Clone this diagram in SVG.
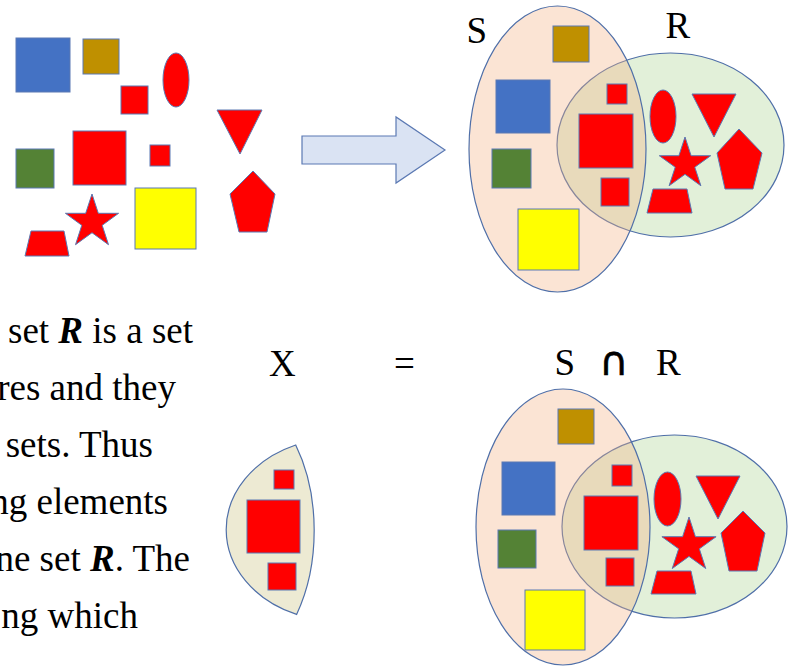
<svg xmlns="http://www.w3.org/2000/svg" width="788" height="667" viewBox="0 0 788 667">
<style>
.sh{stroke:#5B79B3;stroke-width:1}
.red{fill:#FF0000}
.blue{fill:#4472C4}
.gold{fill:#BF9000}
.green{fill:#548235}
.yellow{fill:#FFFF00}
.setS{fill:#F4B183;fill-opacity:0.35;stroke:#4F6FA8;stroke-width:1.2}
.setR{fill:#E2F0D9;stroke:#4F6FA8;stroke-width:1.2}
.lbl{font-family:"Liberation Serif","Times New Roman",serif;font-size:37px;fill:#000}
.body{font-family:"Liberation Serif","Times New Roman",serif;font-size:37px;fill:#000}
.bi{font-weight:bold;font-style:italic}
</style>
<rect width="788" height="667" fill="#FFFFFF"/>

<g id="scatter">
  <rect class="sh blue" x="16" y="38" width="54" height="54"/>
  <rect class="sh gold" x="83" y="39" width="36" height="35"/>
  <rect class="sh red" x="121" y="86" width="27" height="28"/>
  <ellipse class="sh red" cx="176" cy="80" rx="13" ry="27"/>
  <polygon class="sh red" points="217,110 262,110 240,154"/>
  <rect class="sh green" x="16" y="149" width="38" height="39"/>
  <rect class="sh red" x="73" y="131" width="53" height="54"/>
  <rect class="sh red" x="150" y="145" width="20" height="21"/>
  <rect class="sh yellow" x="135" y="188" width="61" height="61"/>
  <polygon class="sh red" points="253,171 275,194 267,232 239,232 230,194"/>
  <polygon class="sh red" points="92,194 98.3,213.3 118.6,213.3 102.2,225.3 108.5,244.7 92,232.7 75.5,244.7 81.8,225.3 65.4,213.3 85.7,213.3"/>
  <polygon class="sh red" points="31,231 64,231 69,256 25,256"/>
</g>

<g id="arrow">
  <polygon points="302,136 396,136 396,117 445,150 396,183 396,164 302,164" fill="#DAE3F3" stroke="#5B79B3" stroke-width="1.2"/>
</g>

<g id="venn-top">
  <ellipse class="setR" cx="670.5" cy="145" rx="113.5" ry="92"/>
  <ellipse class="setS" cx="557.5" cy="149" rx="88.5" ry="143"/>
  <text class="lbl" x="466.5" y="43">S</text>
  <text class="lbl" x="665.5" y="38">R</text>
  <rect class="sh gold" x="553" y="26" width="36" height="36"/>
  <rect class="sh blue" x="496" y="80" width="54" height="53"/>
  <rect class="sh green" x="492" y="149" width="39" height="39"/>
  <rect class="sh yellow" x="518" y="209" width="61" height="61"/>
  <rect class="sh red" x="607" y="84" width="20" height="20"/>
  <rect class="sh red" x="579" y="114" width="54" height="54"/>
  <rect class="sh red" x="601" y="178" width="28" height="28"/>
  <ellipse class="sh red" cx="663" cy="116.5" rx="13" ry="26.5"/>
  <polygon class="sh red" points="692,94 736,94 714,137"/>
  <polygon class="sh red" points="685,137 691.1,155.7 710.7,155.7 694.8,167.2 700.9,185.8 685,174.3 669.1,185.8 675.2,167.2 659.3,155.7 678.9,155.7"/>
  <polygon class="sh red" points="739,129 762,153 753,189 725,189 717,153"/>
  <polygon class="sh red" points="653,189 687,189 692,213 647,213"/>
</g>

<g id="paragraph" class="body" text-anchor="end">
  <text x="193" y="343">set <tspan class="bi">R</tspan> is a set</text>
  <text x="176" y="400">res and they</text>
  <text x="153" y="457">sets. Thus</text>
  <text x="168" y="514">ng elements</text>
  <text x="190" y="571">ne set <tspan class="bi">R</tspan>. The</text>
  <text x="138" y="628">ng which</text>
</g>

<g id="equation">
  <text class="lbl" x="269" y="376">X</text>
  <text class="lbl" x="394" y="376">=</text>
  <text class="lbl" x="554.5" y="375">S</text>
  <text x="614" y="375" text-anchor="middle" font-family="DejaVu Sans, sans-serif" font-size="40" fill="#000" stroke="#000" stroke-width="0.6">∩</text>
  <text class="lbl" x="656" y="375">R</text>
</g>

<g id="result-X">
  <path d="M295.7,445 A112.5,91.5 0 0 0 296.6,614.4 A87,139 0 0 0 295.7,445 Z" fill="#EDEAD3" stroke="#4F6FA8" stroke-width="1.2"/>
  <rect class="sh red" x="274" y="470" width="20" height="19"/>
  <rect class="sh red" x="247" y="500" width="53" height="53"/>
  <rect class="sh red" x="268" y="563" width="28" height="27"/>
</g>

<g id="venn-bottom">
  <ellipse class="setR" cx="674.5" cy="526.5" rx="112.5" ry="91.5"/>
  <ellipse class="setS" cx="563" cy="527" rx="87" ry="138"/>
  <rect class="sh gold" x="558" y="409" width="36" height="35"/>
  <rect class="sh blue" x="502" y="462" width="53" height="53"/>
  <rect class="sh green" x="498" y="530" width="38" height="38"/>
  <rect class="sh yellow" x="525" y="590" width="60" height="60"/>
  <rect class="sh red" x="612" y="465" width="20" height="21"/>
  <rect class="sh red" x="584" y="496" width="54" height="54"/>
  <rect class="sh red" x="606" y="558" width="28" height="28"/>
  <ellipse class="sh red" cx="667.5" cy="499" rx="13.5" ry="27"/>
  <polygon class="sh red" points="696,476 740,476 718,519"/>
  <polygon class="sh red" points="689,517 695.4,536.7 716.1,536.7 699.35,548.86 705.76,568.56 689,556.39 672.24,568.56 678.65,548.86 661.9,536.7 682.6,536.7"/>
  <polygon class="sh red" points="743,511 765,533 757,571 729,571 721,533"/>
  <polygon class="sh red" points="657,571 691,571 696,594 651,594"/>
</g>
</svg>
